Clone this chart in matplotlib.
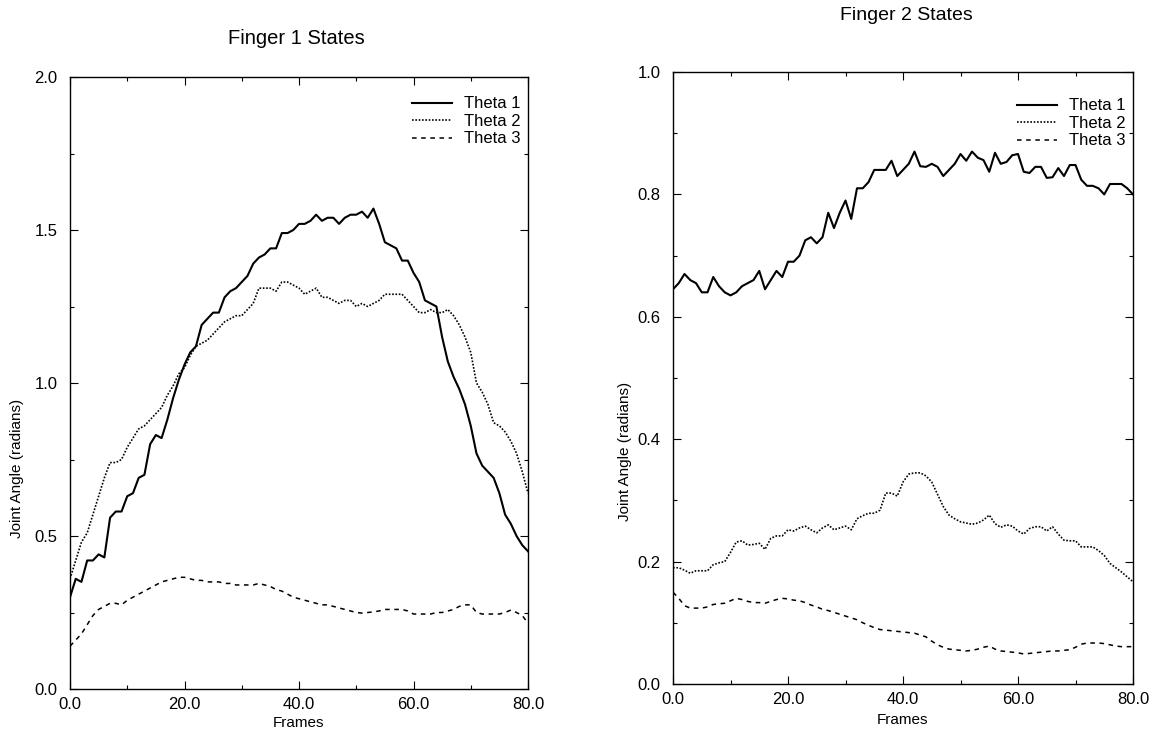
import numpy as np
import matplotlib
matplotlib.use("Agg")
import matplotlib.pyplot as plt
from matplotlib.ticker import MultipleLocator, FormatStrFormatter

plt.rcParams['font.family'] = ['Liberation Sans', 'DejaVu Sans']

frames = np.arange(81)

# finger 1 joint angles (radians), one value per frame
f1_theta1 = [0.30, 0.36, 0.35, 0.42, 0.42, 0.44, 0.43, 0.56, 0.58, 0.58,
             0.63, 0.64, 0.69, 0.70, 0.80, 0.83, 0.82, 0.88, 0.95, 1.01,
             1.06, 1.10, 1.12, 1.19, 1.21, 1.23, 1.23, 1.28, 1.30, 1.31,
             1.33, 1.35, 1.39, 1.41, 1.42, 1.44, 1.44, 1.49, 1.49, 1.50,
             1.52, 1.52, 1.53, 1.55, 1.53, 1.54, 1.54, 1.52, 1.54, 1.55,
             1.55, 1.56, 1.54, 1.57, 1.52, 1.46, 1.45, 1.44, 1.40, 1.40,
             1.36, 1.33, 1.27, 1.26, 1.25, 1.15, 1.07, 1.02, 0.98, 0.93,
             0.86, 0.77, 0.73, 0.71, 0.69, 0.64, 0.57, 0.54, 0.50, 0.47,
             0.45]
f1_theta2 = [0.36, 0.42, 0.48, 0.51, 0.57, 0.63, 0.69, 0.74, 0.74, 0.75,
             0.79, 0.82, 0.85, 0.86, 0.88, 0.90, 0.92, 0.96, 0.99, 1.03,
             1.05, 1.09, 1.12, 1.13, 1.14, 1.16, 1.18, 1.20, 1.21, 1.22,
             1.22, 1.24, 1.26, 1.31, 1.31, 1.31, 1.30, 1.33, 1.33, 1.32,
             1.31, 1.29, 1.30, 1.31, 1.28, 1.28, 1.27, 1.26, 1.27, 1.27,
             1.25, 1.26, 1.25, 1.26, 1.27, 1.29, 1.29, 1.29, 1.29, 1.27,
             1.25, 1.23, 1.23, 1.24, 1.23, 1.23, 1.24, 1.22, 1.19, 1.15,
             1.10, 1.00, 0.97, 0.93, 0.87, 0.86, 0.84, 0.81, 0.77, 0.71,
             0.64]
f1_theta3 = [0.14, 0.16, 0.18, 0.21, 0.24, 0.26, 0.27, 0.28, 0.28, 0.275,
             0.29, 0.30, 0.31, 0.32, 0.33, 0.34, 0.35, 0.355, 0.36, 0.365,
             0.365, 0.36, 0.355, 0.355, 0.35, 0.35, 0.35, 0.345, 0.345, 0.34,
             0.34, 0.34, 0.34, 0.345, 0.34, 0.335, 0.325, 0.32, 0.31, 0.30,
             0.295, 0.29, 0.285, 0.28, 0.275, 0.275, 0.27, 0.265, 0.26, 0.255,
             0.25, 0.248, 0.25, 0.252, 0.255, 0.26, 0.26, 0.26, 0.26, 0.255,
             0.245, 0.245, 0.245, 0.245, 0.25, 0.25, 0.255, 0.26, 0.27, 0.275,
             0.275, 0.25, 0.245, 0.245, 0.245, 0.245, 0.25, 0.258, 0.25, 0.24,
             0.215]

# finger 2 joint angles (radians)
f2_theta1 = [0.645, 0.655, 0.67, 0.66, 0.655, 0.64, 0.64, 0.665, 0.65, 0.64,
             0.635, 0.64, 0.65, 0.655, 0.66, 0.675, 0.645, 0.66, 0.675, 0.665,
             0.69, 0.69, 0.70, 0.725, 0.73, 0.72, 0.73, 0.77, 0.745, 0.77,
             0.79, 0.76, 0.81, 0.81, 0.82, 0.84, 0.84, 0.84, 0.855, 0.83,
             0.84, 0.85, 0.87, 0.846, 0.845, 0.85, 0.845, 0.83, 0.84, 0.85,
             0.866, 0.855, 0.87, 0.86, 0.856, 0.837, 0.868, 0.85, 0.853, 0.864,
             0.866, 0.837, 0.835, 0.845, 0.845, 0.827, 0.828, 0.843, 0.83, 0.848,
             0.848, 0.824, 0.814, 0.814, 0.81, 0.80, 0.817, 0.817, 0.817, 0.81,
             0.80]
f2_theta2 = [0.19, 0.19, 0.186, 0.181, 0.185, 0.185, 0.185, 0.195, 0.198, 0.20,
             0.215, 0.232, 0.234, 0.227, 0.228, 0.23, 0.22, 0.238, 0.242, 0.242,
             0.252, 0.25, 0.255, 0.258, 0.252, 0.247, 0.255, 0.26, 0.252, 0.255,
             0.258, 0.252, 0.27, 0.275, 0.279, 0.279, 0.284, 0.312, 0.312, 0.307,
             0.33, 0.343, 0.345, 0.345, 0.34, 0.33, 0.31, 0.29, 0.276, 0.27,
             0.265, 0.263, 0.261, 0.263, 0.268, 0.276, 0.262, 0.256, 0.26, 0.258,
             0.25, 0.245, 0.254, 0.257, 0.257, 0.25, 0.257, 0.245, 0.235, 0.234,
             0.234, 0.224, 0.224, 0.224, 0.218, 0.21, 0.197, 0.19, 0.183, 0.175,
             0.167]
f2_theta3 = [0.15, 0.14, 0.128, 0.124, 0.124, 0.124, 0.126, 0.13, 0.131, 0.132,
             0.136, 0.14, 0.138, 0.135, 0.133, 0.133, 0.132, 0.135, 0.138, 0.14,
             0.139, 0.137, 0.136, 0.133, 0.129, 0.126, 0.122, 0.12, 0.117, 0.114,
             0.111, 0.108, 0.105, 0.10, 0.096, 0.092, 0.089, 0.088, 0.087, 0.086,
             0.085, 0.084, 0.083, 0.08, 0.077, 0.07, 0.064, 0.06, 0.057, 0.056,
             0.055, 0.054, 0.055, 0.057, 0.06, 0.062, 0.057, 0.054, 0.053, 0.052,
             0.051, 0.049, 0.05, 0.051, 0.052, 0.053, 0.054, 0.054, 0.055, 0.056,
             0.06, 0.065, 0.067, 0.067, 0.067, 0.066, 0.064, 0.062, 0.061, 0.061,
             0.061]

labels = ['Theta 1', 'Theta 2', 'Theta 3']
styles = [dict(ls='-', lw=1.5), dict(ls=(0, (1, 1)), lw=1.2), dict(ls=(0, (3, 3)), lw=1.1)]

fig = plt.figure(figsize=(11.55, 7.35), dpi=100)
ax1 = fig.add_axes([70/1155, 1 - 689/735, 458/1155, 612/735])
ax2 = fig.add_axes([673/1155, 1 - 684/735, 460/1155, 612/735])


def draw_panel(ax, series, ymax, major, minor, ylab_xy, xlab_y, leg_shift):
    for ys, lab, st in zip(series, labels, styles):
        ax.plot(frames, ys, color='black', label=lab, **st)
    ax.set_xlim(0, 80)
    ax.set_ylim(0, ymax)
    ax.xaxis.set_major_locator(MultipleLocator(20))
    ax.xaxis.set_minor_locator(MultipleLocator(10))
    ax.yaxis.set_major_locator(MultipleLocator(major))
    ax.yaxis.set_minor_locator(MultipleLocator(minor))
    ax.xaxis.set_major_formatter(FormatStrFormatter('%.1f'))
    ax.yaxis.set_major_formatter(FormatStrFormatter('%.1f'))
    ax.tick_params(which='both', direction='in', top=True, right=True, width=0.8)
    ax.tick_params(which='major', length=6, labelsize=12)
    ax.tick_params(axis='x', which='major', pad=6)
    ax.tick_params(axis='y', which='major', pad=9)
    ax.tick_params(which='minor', length=3)
    for sp in ax.spines.values():
        sp.set_linewidth(1.0)
    ax.set_xlabel('Frames', fontsize=11)
    ax.set_ylabel('Joint Angle (radians)', fontsize=11)
    ax.xaxis.set_label_coords(0.5, xlab_y)
    ax.yaxis.set_label_coords(*ylab_xy)
    ax.legend(loc='upper right', frameon=False, fontsize=12, handlelength=2.4,
              handletextpad=0.7, labelspacing=0.15, borderaxespad=0.5,
              borderpad=0.3, bbox_to_anchor=leg_shift)


draw_panel(ax1, [f1_theta1, f1_theta2, f1_theta3], 2.0, 0.5, 0.25,
           (-0.10, 0.36), -0.044, (1 + 6/458, 1 - 6/612))
draw_panel(ax2, [f2_theta1, f2_theta2, f2_theta3], 1.0, 0.2, 0.1,
           (-0.09, 0.38), -0.047, (1 + 6/460, 1 - 13/612))

fig.text(296/1155, 1 - 38/735, 'Finger 1 States', ha='center', va='center', fontsize=14.5)
fig.text(906/1155, 1 - 16/735, 'Finger 2 States', ha='center', va='center', fontsize=14)

fig.savefig('out.png', dpi=100)
